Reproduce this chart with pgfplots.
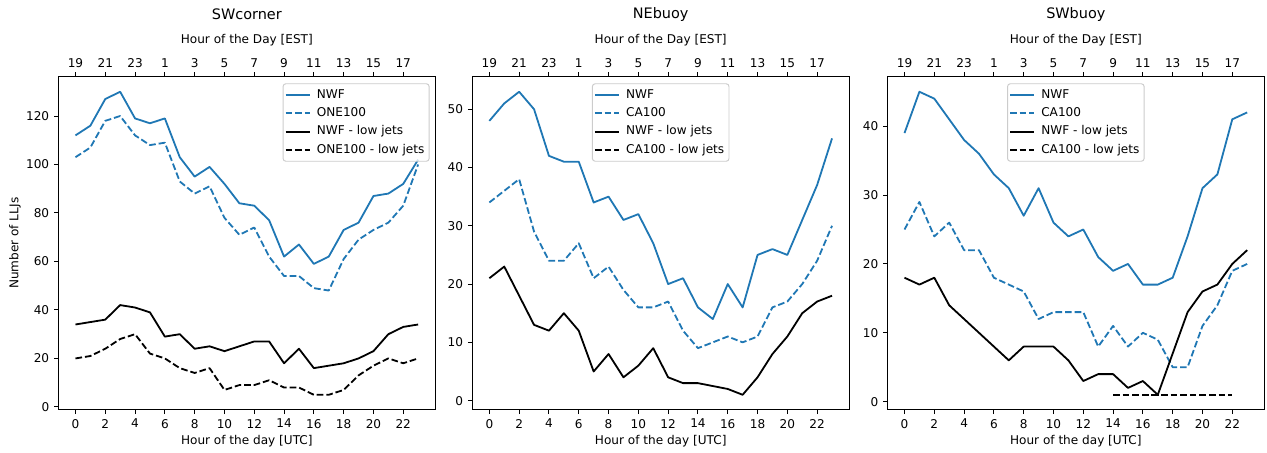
\documentclass[border=0pt]{standalone}
\usepackage{fontspec}
\setmainfont{DejaVu Sans}
\usepackage{pgfplots}
\usepackage{pgfplotstable}
\pgfplotsset{compat=1.18}

\definecolor{mplblue}{HTML}{1F77B4}

% hourly LLJ counts: hour (UTC), NWF, 100-case, NWF low jets, 100-case low jets
\pgfplotstableread{
h nwf one nwfl onel
0 112 103 34 20
1 116 107 35 21
2 127 118 36 24
3 130 120 42 28
4 119 112 41 30
5 117 108 39 22
6 119 109 29 20
7 103 93 30 16
8 95 88 24 14
9 99 91 25 16
10 92 78 23 7
11 84 71 25 9
12 83 74 27 9
13 77 62 27 11
14 62 54 18 8
15 67 54 24 8
16 59 49 16 5
17 62 48 17 5
18 73 61 18 7
19 76 69 20 13
20 87 73 23 17
21 88 76 30 20
22 92 83 33 18
23 102 100 34 20
}\swcorner

\pgfplotstableread{
h nwf ca nwfl
0 48 34 21
1 51 36 23
2 53 38 18
3 50 29 13
4 42 24 12
5 41 24 15
6 41 27 12
7 34 21 5
8 35 23 8
9 31 19 4
10 32 16 6
11 27 16 9
12 20 17 4
13 21 12 3
14 16 9 3
15 14 10 2.5
16 20 11 2
17 16 10 1
18 25 11 4
19 26 16 8
20 25 17 11
21 31 20 15
22 37 24 17
23 45 30 18
}\nebuoy

\pgfplotstableread{
h nwf ca nwfl
0 39 25 18
1 45 29 17
2 44 24 18
3 41 26 14
4 38 22 12
5 36 22 10
6 33 18 8
7 31 17 6
8 27 16 8
9 31 12 8
10 26 13 8
11 24 13 6
12 25 13 3
13 21 8 4
14 19 11 4
15 20 8 2
16 17 10 3
17 17 9 1
18 18 5 7
19 24 5 13
20 31 11 16
21 33 14 17
22 41 19 20
23 42 20 22
}\swbuoy

\newcommand\lblfont{\fontsize{8.7}{10.4}\selectfont}
\newcommand\ttlfont{\fontsize{10.4}{12.5}\selectfont}

\pgfplotsset{
  mpldash/.style={dash pattern=on 4.8pt off 2.1pt},
  panel/.style={
    scale only axis, width=271.4pt, height=240pt,
    anchor=south west,
    xmin=-1.15, xmax=24.15,
    tick align=outside, major tick length=3.05pt,
    every tick/.style={black, line width=0.7pt},
    axis line style={line width=0.7pt},
    tick label style={font=\lblfont},
    /pgf/number format/assume math mode=true,
    /pgf/number format/1000 sep={},
  },
  mainpanel/.style={
    panel,
    xtick={0,2,...,22},
    xtick pos=left, ytick pos=left,
    xlabel={Hour of the day [UTC]},
    every axis x label/.style={at={(axis description cs:0.5,0)}, anchor=center,
      yshift=-22.6pt, font=\lblfont},
    every axis y label/.style={at={(axis description cs:-0.115,0.5)}, anchor=center,
      rotate=90, font=\lblfont},
    legend cell align=left,
    legend image code/.code={\draw[##1] (0pt,0pt) -- (17.4pt,0pt); \path (19.6pt,0pt);},
    legend style={draw=black!20, rounded corners=2pt, fill=white, fill opacity=0.8,
      text opacity=1, font=\lblfont, line width=0.7pt,
      inner xsep=1.2pt, inner ysep=1.5pt, row sep=0pt,
      nodes={inner xsep=2.2pt, inner ysep=2.4pt, text height=6.4pt, text depth=2pt}},
    every axis plot/.append style={line width=1.3pt, line join=round},
  },
  toppanel/.style={
    panel,
    ymin=0, ymax=1,
    axis x line*=top, axis y line=none,
    xtick={0,2,...,22},
    xticklabels={19,21,23,1,3,5,7,9,11,13,15,17},
    xlabel={Hour of the Day [EST]},
    every axis x label/.style={at={(axis description cs:0.5,1)}, anchor=center,
      yshift=26.2pt, font=\lblfont},
    every axis title/.style={at={(axis description cs:0.5,1)}, anchor=center,
      yshift=45pt, font=\ttlfont},
  },
}

\begin{document}
\begin{tikzpicture}
\path[use as bounding box] (0,0) rectangle (912.24pt,326.16pt);

% ---------------- SWcorner ----------------
\begin{axis}[mainpanel, at={(42pt,31pt)},
    ymin=-1.25, ymax=136.25, ytick={0,20,...,120},
    ylabel={Number of LLJs},
    legend style={at={(0.985,0.98)}, anchor=north east}]
  \addplot[mplblue] table[x=h, y=nwf] {\swcorner};
  \addlegendentry{NWF}
  \addplot[mplblue, mpldash] table[x=h, y=one] {\swcorner};
  \addlegendentry{ONE100}
  \addplot[black] table[x=h, y=nwfl] {\swcorner};
  \addlegendentry{NWF - low jets}
  \addplot[black, mpldash] table[x=h, y=onel] {\swcorner};
  \addlegendentry{ONE100 - low jets}
\end{axis}
\begin{axis}[toppanel, at={(42pt,31pt)}, title={SWcorner}]
\end{axis}

% ---------------- NEbuoy ----------------
\begin{axis}[mainpanel, at={(340pt,31pt)},
    ymin=-1.6, ymax=55.6, ytick={0,10,...,50},
    legend style={at={(0.5,0.98)}, anchor=north}]
  \addplot[mplblue] table[x=h, y=nwf] {\nebuoy};
  \addlegendentry{NWF}
  \addplot[mplblue, mpldash] table[x=h, y=ca] {\nebuoy};
  \addlegendentry{CA100}
  \addplot[black] table[x=h, y=nwfl] {\nebuoy};
  \addlegendentry{NWF - low jets}
  \addlegendimage{black, mpldash, line width=1.3pt}
  \addlegendentry{CA100 - low jets}
\end{axis}
\begin{axis}[toppanel, at={(340pt,31pt)}, title={NEbuoy}]
\end{axis}

% ---------------- SWbuoy ----------------
\begin{axis}[mainpanel, at={(638.9pt,31pt)},
    ymin=-1.2, ymax=47.2, ytick={0,10,...,40},
    legend style={at={(0.5,0.98)}, anchor=north}]
  \addplot[mplblue] table[x=h, y=nwf] {\swbuoy};
  \addlegendentry{NWF}
  \addplot[mplblue, mpldash] table[x=h, y=ca] {\swbuoy};
  \addlegendentry{CA100}
  \addplot[black] table[x=h, y=nwfl] {\swbuoy};
  \addlegendentry{NWF - low jets}
  \addplot[black, mpldash] coordinates {(14,1) (15,1) (16,1) (17,1) (18,1) (19,1) (20,1) (21,1) (22,1)};
  \addlegendentry{CA100 - low jets}
\end{axis}
\begin{axis}[toppanel, at={(638.9pt,31pt)}, title={SWbuoy}]
\end{axis}

\end{tikzpicture}
\end{document}
